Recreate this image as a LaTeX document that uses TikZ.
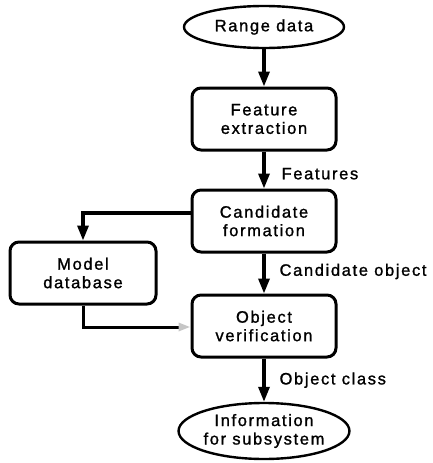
\documentclass[tikz,border=0pt]{standalone}
\usepackage{fontspec}
\setmainfont{Liberation Sans}[LetterSpace=10,FakeBold=1.2]
\usetikzlibrary{shapes.geometric,arrows.meta}
\begin{document}
\begin{tikzpicture}[x=1pt,y=-1pt,
  every node/.style={font=\fontsize{16.5}{18.5}\selectfont},
  box/.style={draw,line width=3pt,rounded corners=9pt,minimum width=144pt,minimum height=62pt,align=center,inner sep=0pt},
  oval/.style={draw,ellipse,line width=2.4pt,align=center,inner sep=0pt},
  conn/.style={line width=3.2pt,-{Triangle[length=15pt,width=11pt]}},
  lbl/.style={anchor=west,inner sep=0pt}]
\useasboundingbox (0,0) rectangle (433,463);
\node[oval,minimum width=160pt,minimum height=42pt] (range) at (264,27) {Range data};
\node[box] (feat) at (264,119) {Feature\\extraction};
\node[box,minimum height=62pt] (cand) at (264,221) {Candidate\\formation};
\node[box,minimum width=146pt] (model) at (83,273) {Model\\database};
\node[box] (verif) at (264,326) {Object\\verification};
\node[oval,minimum width=162pt,minimum height=56pt] (info) at (264,431) {Information\\for subsystem};
\draw[conn] (range) -- (feat);
\draw[conn] (feat) -- (cand) node[lbl,pos=0.6,xshift=16pt] (lf) {Features};
\draw[conn] (cand) -- (verif) node[lbl,pos=0.45,xshift=14pt] (lc) {Candidate object};
\draw[conn] (verif) -- (info) node[lbl,pos=0.5,xshift=14pt] (lo) {Object class};
\coordinate (c1) at (83,213);
\draw[conn] (cand.west |- c1) -- (c1) -- (model.north);
\coordinate (c2) at (83,327);
\draw[line width=3pt,-{Triangle[length=12pt,width=8pt,fill=gray!45,color=gray!45]}] (model.south) -- (c2) -- (verif.west |- c2);
\end{tikzpicture}
\end{document}
